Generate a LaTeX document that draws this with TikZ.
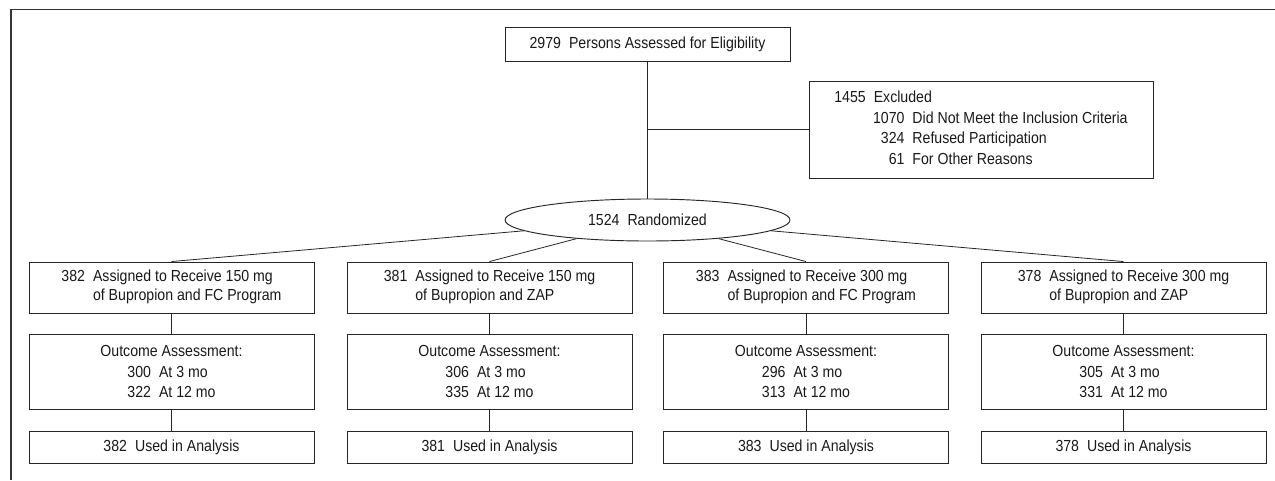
\documentclass[tikz,border=0pt]{standalone}
\usepackage{fontspec}
\setmainfont{Liberation Sans}[FakeStretch=0.883]
\usetikzlibrary{shapes.geometric}
\tikzset{
  x=0.75pt, y=-0.75pt,
  lin/.style={draw=black!85, line width=0.7pt},
  txt/.style={font=\fontsize{12}{15.5}\selectfont, text=black!90},
  box/.style={lin, txt, rectangle, inner sep=0pt, minimum width=213.75pt, align=center},
  armbox/.style={box, minimum height=38.25pt},
  outbox/.style={box, minimum height=56.25pt},
  usebox/.style={box, minimum height=24pt},
  ellbox/.style={lin, txt, ellipse, inner sep=0pt, minimum width=213.75pt, minimum height=31.5pt},
  conn/.style={draw=black!85, line width=0.6pt}
}
\newcommand{\armtext}[3]{{\fontsize{12}{14.3}\selectfont\begin{tabular}{@{}r@{\hspace{6pt}}l@{}}#1 & Assigned to Receive #2 mg\\ & of Bupropion and #3\end{tabular}}}
\newcommand{\outtext}[2]{Outcome Assessment:\\#1\hspace{6pt}At 3 mo\phantom{1}\\#2\hspace{6pt}At 12 mo}
\begin{document}
\begin{tikzpicture}
\useasboundingbox (0,0) rectangle (1275,480);
% frame (left and top edges visible)
\draw[draw=black!80, line width=1.1pt] (11,480) -- (11,9.5) -- (1275,9.5);

\node[box, minimum height=25.5pt] (top) at (647.5,44) {2979\hspace{6pt}Persons Assessed for Eligibility};
\node[box, minimum width=258pt, minimum height=72.75pt] (excl) at (981,129.5)
  {\begin{tabular}{@{}p{29pt}@{}r@{\hspace{6pt}}l@{}}
   \multicolumn{3}{@{}l@{}}{1455\hspace{6pt}Excluded}\\
   & 1070 & Did Not Meet the Inclusion Criteria\\
   & 324 & Refused Participation\\
   & 61 & For Other Reasons
   \end{tabular}};
\node[ellbox] (ell) at (647.5,220) {1524\hspace{6pt}Randomized};
\coordinate (junc) at (647.5,129.5);

\node[armbox] (a1) at (171.5,287.5) {\armtext{382}{150}{FC Program}};
\node[armbox] (a2) at (489.5,287.5) {\armtext{381}{150}{ZAP}};
\node[armbox] (a3) at (806,287.5) {\armtext{383}{300}{FC Program}};
\node[armbox] (a4) at (1123.5,287.5) {\armtext{378}{300}{ZAP}};

\node[outbox] (o1) at (171.5,371.5) {\outtext{300}{322}};
\node[outbox] (o2) at (489.5,371.5) {\outtext{306}{335}};
\node[outbox] (o3) at (806,371.5) {\outtext{296}{313}};
\node[outbox] (o4) at (1123.5,371.5) {\outtext{305}{331}};

\node[usebox] (u1) at (171.5,447) {382\hspace{6pt}Used in Analysis};
\node[usebox] (u2) at (489.5,447) {381\hspace{6pt}Used in Analysis};
\node[usebox] (u3) at (806,447) {383\hspace{6pt}Used in Analysis};
\node[usebox] (u4) at (1123.5,447) {378\hspace{6pt}Used in Analysis};

\draw[conn] (top.south) -- (ell.north);
\draw[conn] (junc) -- (excl.west);
\foreach \i in {1,2,3,4}{
  \draw[conn] (ell) -- (a\i.north);
  \draw[conn] (a\i.south) -- (o\i.north);
  \draw[conn] (o\i.south) -- (u\i.north);
}
\end{tikzpicture}
\end{document}
